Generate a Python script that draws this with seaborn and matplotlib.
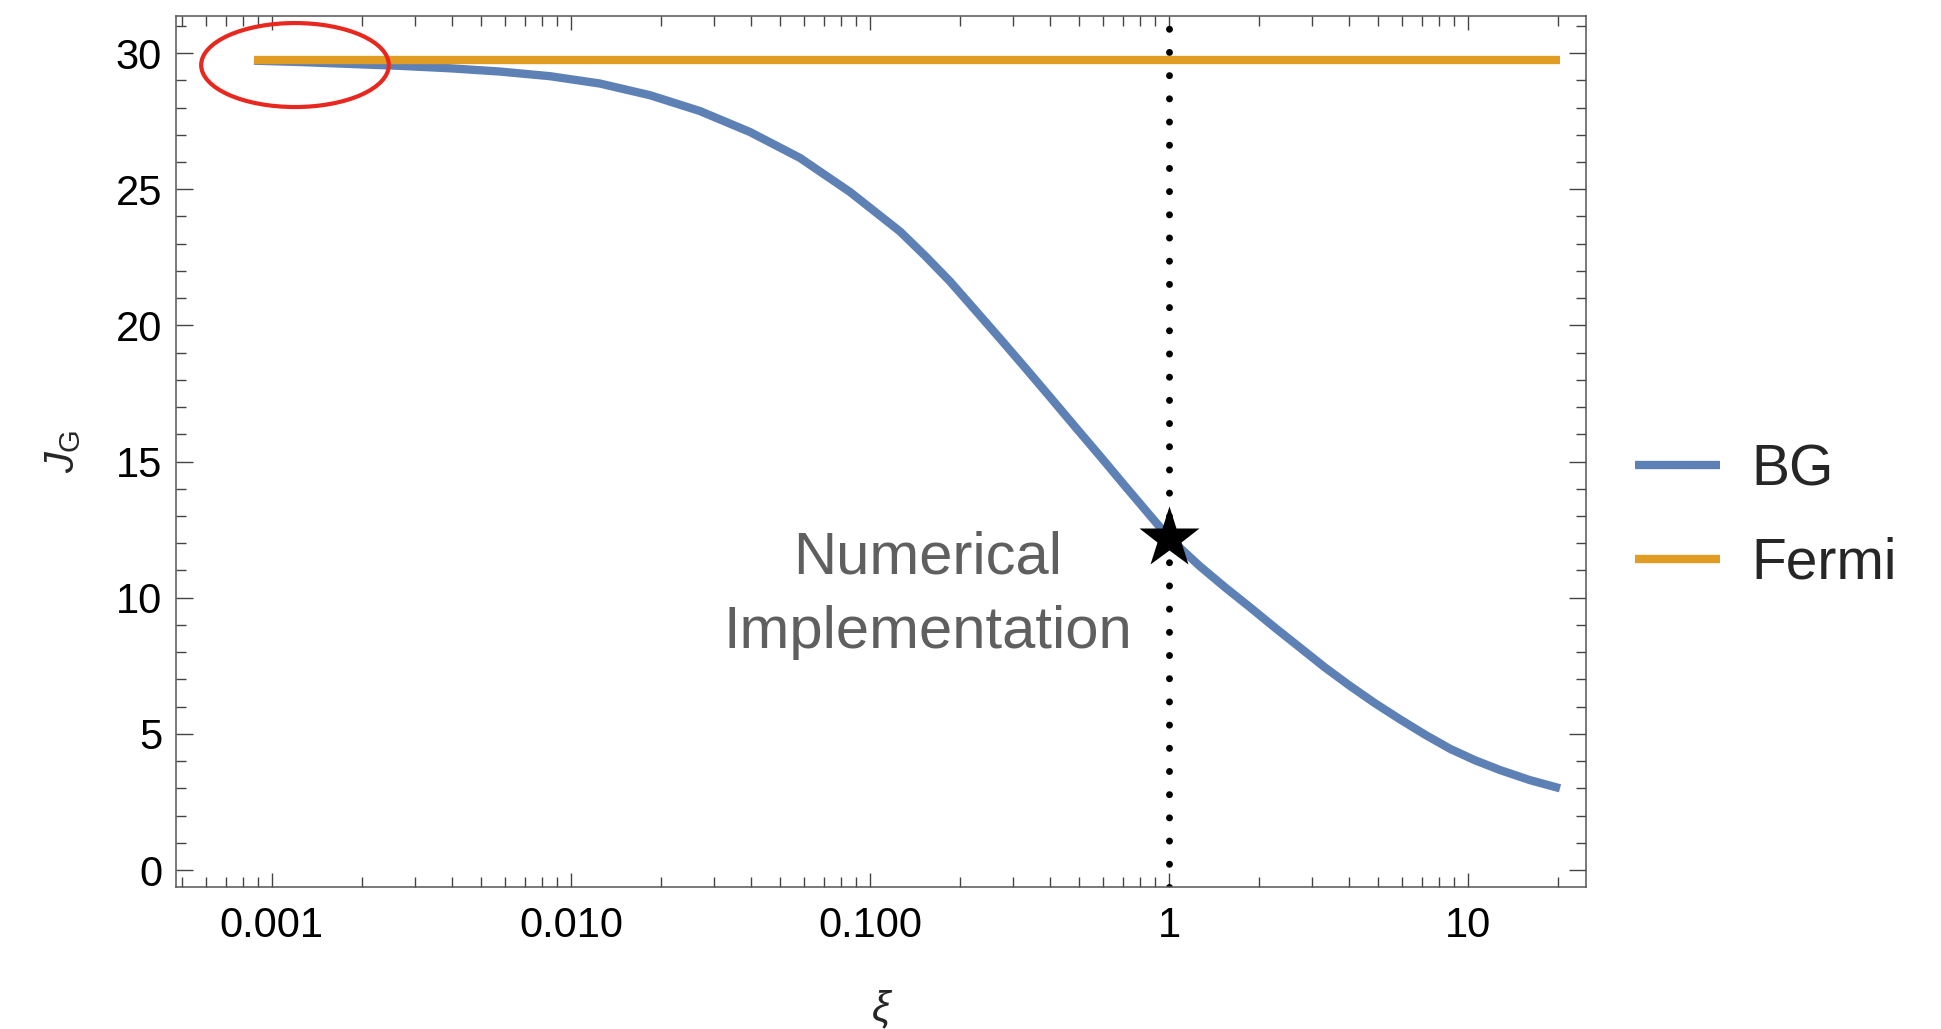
import matplotlib

matplotlib.use("Agg")
import matplotlib.pyplot as plt
import numpy as np
import pandas as pd
import seaborn as sns
from matplotlib.patches import Ellipse
from matplotlib.ticker import FixedFormatter, FixedLocator, LogLocator, MultipleLocator, NullFormatter

# values
bg_xi = [0.000871, 0.00124, 0.00268, 0.00394, 0.00579, 0.00851, 0.0125, 0.0184, 0.0270, 0.0397,
         0.0583, 0.0857, 0.126, 0.153, 0.185, 0.224, 0.272, 0.330, 0.400, 0.485, 0.588, 0.713,
         0.864, 1.0, 1.27, 1.54, 1.87, 2.26, 2.74, 3.32, 4.03, 4.89, 5.93, 7.18, 8.71, 10.55,
         12.8, 16.1, 20.3]
bg_j = [29.72, 29.67, 29.53, 29.44, 29.32, 29.15, 28.88, 28.45, 27.87, 27.10,
        26.15, 24.90, 23.45, 22.55, 21.62, 20.58, 19.52, 18.45, 17.37, 16.28, 15.20, 14.10,
        13.02, 12.20, 11.15, 10.38, 9.64, 8.90, 8.17, 7.44, 6.76, 6.12, 5.53, 4.97, 4.45, 4.03,
        3.67, 3.30, 3.00]
fermi_xi = [0.000871, 20.3]
fermi_j = [29.75, 29.75]
star_xi = [1.0]
star_j = [12.18]
xticks = [0.001, 0.01, 0.1, 1, 10]
xtick_labels = ["0.001", "0.010", "0.100", "1", "10"]
yticks = [0, 5, 10, 15, 20, 25, 30]

BLUE = "#5e81b5"
ORANGE = "#e19c24"

sns.set_theme(style="ticks")
plt.rcParams["font.family"] = ["Liberation Sans", "DejaVu Sans"]
plt.rcParams["mathtext.fontset"] = "custom"
plt.rcParams["mathtext.it"] = "Liberation Sans:italic"
plt.rcParams["mathtext.rm"] = "Liberation Sans"

fig = plt.figure(figsize=(19.41, 10.29), dpi=100)
ax = fig.add_axes([176 / 1941, 1 - 887 / 1029, 1410 / 1941, 871 / 1029])

bg = pd.DataFrame({"xi": bg_xi, "J": bg_j})
fermi = pd.DataFrame({"xi": fermi_xi, "J": fermi_j})
sns.lineplot(data=bg, x="xi", y="J", color=BLUE, lw=6, estimator=None, label="BG",
             solid_capstyle="butt", ax=ax)
sns.lineplot(data=fermi, x="xi", y="J", color=ORANGE, lw=6, estimator=None, label="Fermi",
             solid_capstyle="butt", ax=ax)
handles, labels = ax.get_legend_handles_labels()

ax.axvline(1.0, color="black", lw=5, linestyle=(0, (0.01, 3.33)), dash_capstyle="round", zorder=1)
ax.plot(star_xi, star_j, marker="*", ms=46, color="black", mec="none", ls="none", zorder=5)

ax.add_patch(Ellipse((0.0844, 0.9437), 0.1331, 0.0964, transform=ax.transAxes,
                     fill=False, ec="#e8281e", lw=3, zorder=6))

ax.text(0.5333, 0.3605, "Numerical", transform=ax.transAxes, ha="center", va="baseline",
        fontsize=43, color="#5f5f5f")
ax.text(0.5333, 0.2744, "Implementation", transform=ax.transAxes, ha="center", va="baseline",
        fontsize=43, color="#5f5f5f")

ax.set_xscale("log")
ax.set_xlim(0.000478, 24.8)
ax.set_ylim(-0.624, 31.36)
ax.xaxis.set_major_locator(FixedLocator(xticks))
ax.xaxis.set_major_formatter(FixedFormatter(xtick_labels))
ax.xaxis.set_minor_locator(LogLocator(base=10, subs=np.arange(2, 10), numticks=20))
ax.xaxis.set_minor_formatter(NullFormatter())
ax.set_yticks(yticks)
ax.yaxis.set_minor_locator(MultipleLocator(1))

for s in ax.spines.values():
    s.set_color("#555555")
    s.set_linewidth(1.1)
ax.tick_params(which="both", direction="in", top=True, right=True, color="#444444", width=1.0,
               labelsize=30, labelcolor="black")
ax.tick_params(axis="x", which="major", length=10, pad=14)
ax.tick_params(axis="y", which="major", length=12, pad=10)
ax.tick_params(which="minor", length=7)

ax.set_xlabel("ξ", fontsize=30, fontstyle="italic")
ax.xaxis.set_label_coords(0.5, -0.14)
ax.xaxis.label.set_va("center")
ax.set_ylabel(r"$J_{\mathrm{G}}$", fontsize=30)
ax.yaxis.set_label_coords(-0.080, 0.5)
ax.yaxis.label.set_va("center")

ax.legend(handles, labels, loc="center left", bbox_to_anchor=(1635 / 1941, 0.4976),
          bbox_transform=fig.transFigure, frameon=False, fontsize=41, handlelength=1.5,
          handletextpad=0.55, labelspacing=0.7, borderpad=0, borderaxespad=0)

fig.savefig("out.png", dpi=100)
